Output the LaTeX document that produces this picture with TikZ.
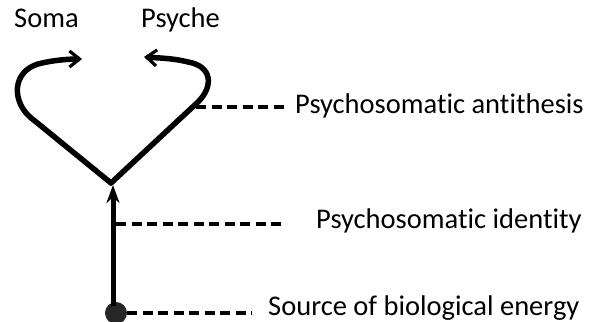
\documentclass[tikz,border=0pt]{standalone}
\usepackage{fontspec}
\setmainfont[Ligatures=NoCommon]{Carlito}
\usetikzlibrary{arrows.meta}
\begin{document}
\begin{tikzpicture}[x=1pt,y=-1pt,
  lbl/.style={anchor=base west,inner sep=0pt,font=\fontsize{28.5}{31}\selectfont},
  curl/.style={line width=5.5pt,line cap=round,line join=round,-{Straight Barb[length=10pt,width=16pt,line width=3.2pt]}},
  guide/.style={line width=3.4pt,dash pattern=on 10pt off 5.5pt},
  stem/.style={line width=5pt,-{Stealth[length=18pt,width=13pt]}}]
\useasboundingbox (0,0) rectangle (596,321);
\node[lbl] (soma) at (14,28) {Soma};
\node[lbl] (psyche) at (141,28) {Psyche};
\node[lbl] (anti) at (295,113) {Psychosomatic antithesis};
\node[lbl] (ident) at (316,228) {Psychosomatic identity};
\node[lbl] (src) at (268,315) {Source of biological energy};
\coordinate (v) at (111,183);
\node[circle,fill=black!85,minimum size=22pt,inner sep=0pt] (dot) at (116,313) {};
% loops
\draw[curl] (v) -- (30,117) .. controls (12,101) and (12,72) .. (38,64) .. controls (53,60) and (70,59) .. (82,59);
\draw[curl] (v) -- (198,102) .. controls (214,86) and (212,66) .. (188,62) .. controls (172,58) and (158,58) .. (144,57);
% stem
\coordinate (stembase) at (113,306);
\draw[stem] (stembase) -- (113,185);
% dashed guides
\coordinate (a1) at (196,107);
\coordinate (i1) at (116,224);
\coordinate (s1) at (127,313);
\draw[guide] (a1) -- (287,107);
\draw[guide] (i1) -- (285,224);
\draw[guide] (s1) -- (252,313);
\end{tikzpicture}
\end{document}
